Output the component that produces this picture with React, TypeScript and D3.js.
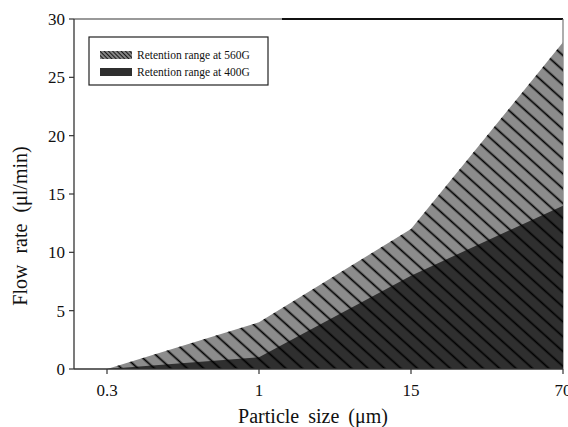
import React from 'react';
import * as d3 from 'd3';

const categories = ['0.3', '1', '15', '70'];
const range560 = [0, 4, 12, 28];
const range400 = [0, 1, 8, 14];
const yTicks = [0, 5, 10, 15, 20, 25, 30];
const legendLabels = ['Retention range at 560G', 'Retention range at 400G'];

const W = 568;
const H = 427;
const FONT = '"Liberation Serif", "Times New Roman", serif';

export default function App() {
  const left = 74, right = 563, top = 19, bottom = 369;
  const x = d3.scalePoint<string>().domain(categories).range([107, right]);
  const y = d3.scaleLinear().domain([0, 30]).range([bottom, top]);

  const areaGen = d3
    .area<number>()
    .x((_, i) => x(categories[i]) as number)
    .y0(y(0))
    .y1((d) => y(d));

  const p560 = areaGen(range560) || '';
  const p400 = areaGen(range400) || '';

  return (
    <div style={{ position: 'fixed', left: 0, top: 0 }}>
      <svg width={W} height={H} style={{ display: 'block', background: '#fff' }}>
        <defs>
          <pattern id="hatch" patternUnits="userSpaceOnUse" width={11} height={11} patternTransform="rotate(42)">
            <line x1={0} y1={5.5} x2={11} y2={5.5} stroke="#000" strokeWidth={1.7} />
          </pattern>
          <pattern id="hatchSmall" patternUnits="userSpaceOnUse" width={3} height={3} patternTransform="rotate(45)">
            <rect x={0} y={0} width={3} height={3} fill="#8a8a8a" />
            <line x1={0} y1={1.5} x2={3} y2={1.5} stroke="#1a1a1a" strokeWidth={1.1} />
          </pattern>
        </defs>

        {/* frame top/right */}
        <line x1={left} y1={top} x2={282} y2={top} stroke="#777" strokeWidth={1.5} />
        <line x1={282} y1={top} x2={right} y2={top} stroke="#111" strokeWidth={2} />
        <line x1={right} y1={top} x2={right} y2={bottom} stroke="#777" strokeWidth={1.2} />

        {/* areas */}
        <path d={p560} fill="#8c8c8c" />
        <path d={p400} fill="#2f2f2f" />
        <path d={p560} fill="url(#hatch)" />

        {/* y axis */}
        <line x1={left} y1={top} x2={left} y2={bottom} stroke="#333" strokeWidth={1.3} />
        {yTicks.map((t) => (
          <g key={t}>
            <line x1={left - 5} y1={y(t)} x2={left} y2={y(t)} stroke="#333" strokeWidth={1.2} />
            <text x={left - 9} y={y(t)} dy="0.35em" textAnchor="end" fontFamily={FONT} fontSize={17} fill="#111">
              {t}
            </text>
          </g>
        ))}

        {/* x axis */}
        <line x1={left} y1={bottom} x2={right} y2={bottom} stroke="#333" strokeWidth={1.3} />
        {categories.map((c) => (
          <g key={c}>
            <line x1={x(c)} y1={bottom} x2={x(c)} y2={bottom + 5} stroke="#333" strokeWidth={1.2} />
            <text x={x(c)} y={bottom + 27} textAnchor="middle" fontFamily={FONT} fontSize={17} fill="#111">
              {c}
            </text>
          </g>
        ))}

        {/* axis titles */}
        <text x={313} y={423} textAnchor="middle" fontFamily={FONT} fontSize={20} fill="#111" style={{ wordSpacing: '4px' }}>
          Particle size (μm)
        </text>
        <text
          transform={`translate(27,226) rotate(-90)`}
          textAnchor="middle"
          fontFamily={FONT}
          fontSize={20}
          fill="#111"
          style={{ wordSpacing: '6px' }}
        >
          Flow rate (μl/min)
        </text>

        {/* legend */}
        <rect x={89} y={37} width={179} height={48} fill="#fff" stroke="#222" strokeWidth={1.2} />
        <rect x={100} y={51} width={32} height={8} fill="url(#hatchSmall)" />
        <rect x={100} y={68} width={32} height={8} fill="#2f2f2f" />
        <text x={137} y={59} fontFamily={FONT} fontSize={11.5} fill="#111">
          {legendLabels[0]}
        </text>
        <text x={137} y={76} fontFamily={FONT} fontSize={11.5} fill="#111">
          {legendLabels[1]}
        </text>
      </svg>
    </div>
  );
}
